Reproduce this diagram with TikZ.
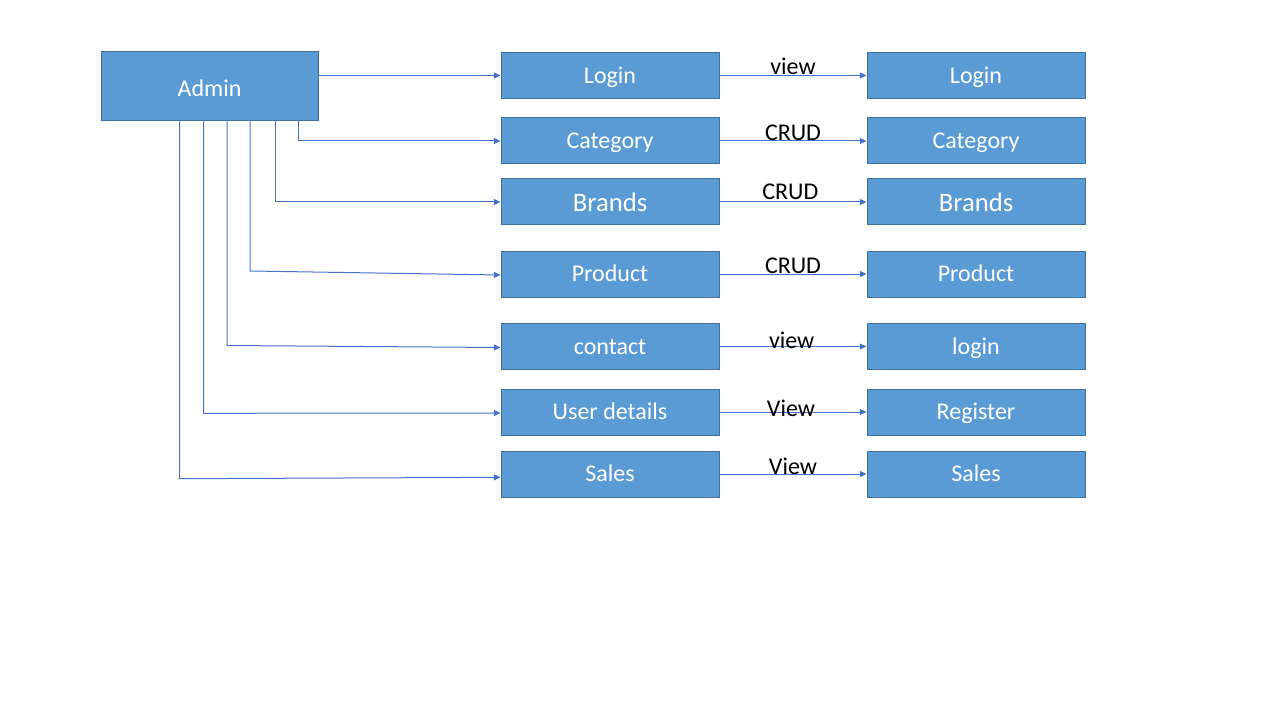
\documentclass[tikz,border=0pt]{standalone}
\usepackage{fontspec}
\setmainfont{Carlito}
\usetikzlibrary{arrows.meta}
\definecolor{boxfill}{HTML}{5B9BD5}
\definecolor{boxline}{HTML}{41719C}
\definecolor{conn}{HTML}{4472C4}
\tikzset{
  box/.style={draw=boxline, line width=0.75pt, fill=boxfill, text=white, inner sep=0pt,
    minimum width=163.5pt, minimum height=34.5pt, font=\fontsize{18}{21}\selectfont,
    text height=14.5pt, text depth=3pt},
  lowtext/.style={text height=16pt, text depth=1.5pt},
  bigbox/.style={box, lowtext, minimum width=162.75pt, minimum height=51.75pt},
  conline/.style={draw=conn, line width=0.75pt, -{Triangle[length=5pt,width=4.5pt]}},
  lbl/.style={text=black, inner sep=0pt, anchor=south, font=\fontsize{18}{21}\selectfont}
}
\begin{document}
\begin{tikzpicture}[x=0.75pt, y=-0.75pt]
\useasboundingbox (0,0) rectangle (1280,720);
\fill[white] (0,0) rectangle (1280,720);

\node[bigbox] (admin) at (209.5,86.5) {Admin};

\node[box] (m1) at (610,75.5) {Login};
\node[box] (m2) at (610,141) {Category};
\node[box, lowtext, font=\fontsize{20}{24}\selectfont] (m3) at (610,202) {Brands};
\node[box] (m4) at (610,274) {Product};
\node[box] (m5) at (610,346.5) {contact};
\node[box] (m6) at (610,412) {User details};
\node[box] (m7) at (610,474) {Sales};

\node[box] (r1) at (976,75.5) {Login};
\node[box] (r2) at (976,141) {Category};
\node[box, lowtext, font=\fontsize{20}{24}\selectfont] (r3) at (976,202) {Brands};
\node[box] (r4) at (976,274) {Product};
\node[box] (r5) at (976,346.5) {login};
\node[box] (r6) at (976,412) {Register};
\node[box] (r7) at (976,474) {Sales};

% Admin connectors
\coordinate (c4) at (250,271);
\coordinate (c5) at (227,345.5);
\coordinate (c6) at (203.5,413.3);
\coordinate (c7) at (179.5,478.7);

\draw[conline] (admin.east |- m1.west) -- (m1.west);
\draw[conline] (admin.south -| 298,0) |- (m2.west);
\draw[conline] (admin.south -| 275,0) |- (m3.west);
\draw[conline] (admin.south -| c4) -- (c4) -- ([yshift=-0.75pt]m4.west);
\draw[conline] (admin.south -| c5) -- (c5) -- ([yshift=-0.75pt]m5.west);
\draw[conline] (admin.south -| c6) -- (c6) -- ([yshift=-0.75pt]m6.west);
\draw[conline] (admin.south -| c7) -- (c7) -- ([yshift=-2.5pt]m7.west);

% Right connectors
\draw[conline] (m1.east) -- (r1.west) node[lbl, midway, yshift=0pt] {view};
\draw[conline] (m2.east) -- (r2.west) node[lbl, midway, yshift=0pt] {CRUD};
\draw[conline] (m3.east) -- (r3.west) node[lbl, midway, xshift=-2pt, yshift=1.5pt] {CRUD};
\draw[conline] (m4.east) -- (r4.west) node[lbl, midway, yshift=0pt] {CRUD};
\draw[conline] (m5.east) -- (r5.west) node[lbl, midway, xshift=-1pt, yshift=-2pt] {view};
\draw[conline] (m6.east) -- (r6.west) node[lbl, midway, xshift=-1.5pt, yshift=-4pt] {View};
\draw[conline] (m7.east) -- (r7.west) node[lbl, midway, yshift=-1pt] {View};
\end{tikzpicture}
\end{document}
